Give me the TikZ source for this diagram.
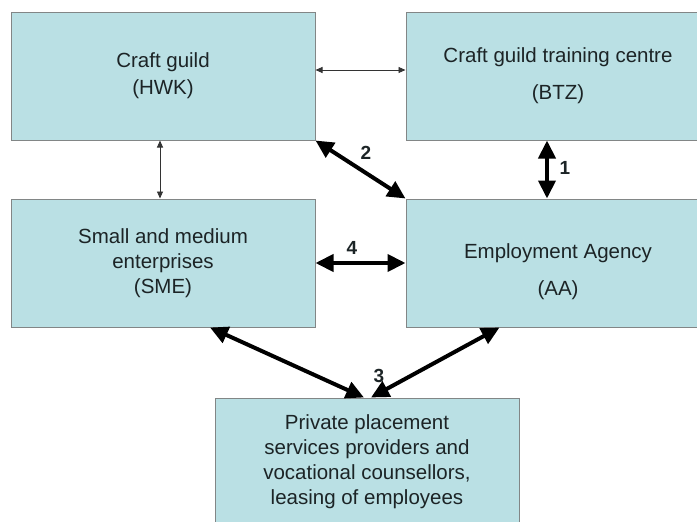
\documentclass[tikz,border=0pt]{standalone}
\usepackage{fontspec}
\setmainfont{Liberation Sans}
\usetikzlibrary{arrows.meta}
\definecolor{boxfill}{RGB}{186,224,228}
\definecolor{boxline}{RGB}{130,134,134}
\definecolor{boxtext}{RGB}{28,36,38}
\begin{document}
\begin{tikzpicture}[x=1pt,y=-1pt,
    box/.style={draw=boxline,fill=boxfill,line width=1pt,text=boxtext,align=center,
      minimum width=\bw pt,minimum height=\bh pt,inner sep=0pt,
      font=\fontsize{20.5}{25}\selectfont},
    thinlink/.style={draw=black!80,line width=0.9pt,{Triangle[length=7pt,width=6pt]}-{Triangle[length=7pt,width=6pt]}},
    thicklink/.style={draw=black,line width=4pt,{Triangle[length=18pt,width=17pt]}-{Triangle[length=18pt,width=17pt]}},
    num/.style={font=\bfseries\fontsize{19}{22}\selectfont,text=boxtext,inner sep=0pt}]
  \pgfmathsetmacro\bw{304}  % box width
  \pgfmathsetmacro\bh{128}  % box height

  \useasboundingbox (0,0) rectangle (697,522);
  \clip (0,0) rectangle (697,522);

% boxes
  \node[box] (hwk) at (163,76)  {Craft guild\\[2pt](HWK)};
  \node[box] (btz) at (558,76)  {Craft guild training centre\\[12pt](BTZ)};
  \node[box] (sme) at (163,263) {Small and medium\\enterprises\\(SME)};
  \node[box] (aa)  at (558,263) {\rule{0pt}{33pt}Employment Agency\\[12pt](AA)};
  \node[box] (ppp) at (367,462) {Private placement\\services providers and\\vocational counsellors,\\leasing of employees};

% thin links
  \draw[thinlink] ([yshift=6pt]hwk.east) -- ([yshift=6pt]btz.west);
  \draw[thinlink] ([xshift=-3pt]hwk.south) -- ([xshift=-3pt]sme.north);

% thick links
  \draw[thicklink] (hwk.south east) -- (aa.north west);
  \draw[thicklink] ([xshift=-11pt]btz.south) -- ([xshift=-11pt]aa.north);
  \draw[thicklink] (sme.east) -- (aa.west);
  \draw[thicklink] ([xshift=47pt]sme.south) -- ([xshift=-3pt]ppp.north);
  \draw[thicklink] ([xshift=94pt]aa.south west) -- ([xshift=4pt]ppp.north);

% link numbers
  \node[num] (n1) at (565,168) {1};
  \node[num] (n2) at (366,153) {2};
  \node[num] (n3) at (379,376) {3};
  \node[num] (n4) at (352,248) {4};

\end{tikzpicture}
\end{document}
